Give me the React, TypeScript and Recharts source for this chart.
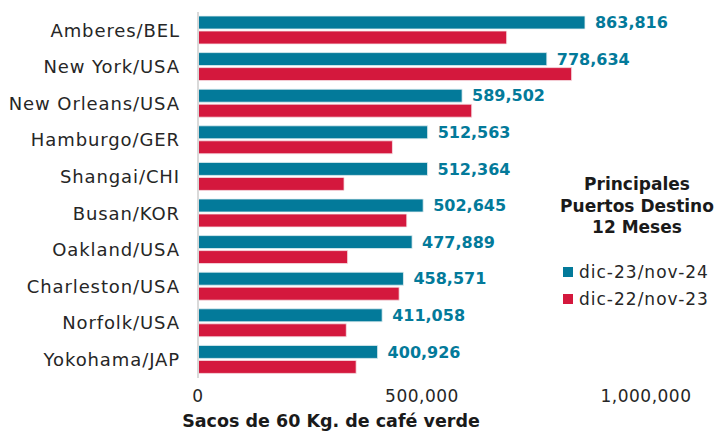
import React from "react";
import { BarChart, Bar, XAxis, YAxis, LabelList } from "recharts";

// ports ordered top to bottom
const ports = [
  "Amberes/BEL",
  "New York/USA",
  "New Orleans/USA",
  "Hamburgo/GER",
  "Shangai/CHI",
  "Busan/KOR",
  "Oakland/USA",
  "Charleston/USA",
  "Norfolk/USA",
  "Yokohama/JAP",
];
// sacos 60 kg, dic-23/nov-24
const current = [863816, 778634, 589502, 512563, 512364, 502645, 477889, 458571, 411058, 400926];
// dic-22/nov-23
const previous = [689000, 834000, 611000, 434000, 326000, 466000, 334000, 449000, 331000, 353000];
const xTicks = [0, 500000, 1000000];

const TEAL = "#037a9a";
const RED = "#d4183d";
const FONT = "'DejaVu Sans', sans-serif";

const data = ports.map((port, i) => ({
  port,
  current: current[i],
  previous: previous[i],
}));

const fmt = (v: number) => v.toLocaleString("en-US");

const LegendBox = () => (
  <div style={{ position: "absolute", left: 552, top: 174, width: 170, fontFamily: FONT, color: "#1a1a1a" }}>
    <div style={{ fontWeight: "bold", fontSize: 17, lineHeight: "21.5px", textAlign: "center" }}>
      Principales
      <br />
      Puertos Destino
      <br />
      12 Meses
    </div>
    <div style={{ marginTop: 20, marginLeft: 11 }}>
      {[
        { name: "dic-23/nov-24", color: TEAL },
        { name: "dic-22/nov-23", color: RED },
      ].map((it) => (
        <div key={it.name} style={{ display: "flex", alignItems: "center", height: 27, fontSize: 17, letterSpacing: 1, color: "#262626" }}>
          <span style={{ width: 10, height: 10, background: it.color, marginRight: 6, display: "inline-block" }} />
          {it.name}
        </div>
      ))}
    </div>
  </div>
);

export default function App() {
  return (
    <div style={{ position: "absolute", left: 0, top: 0, width: 720, height: 431, background: "#fff" }}>
      <BarChart
        width={720}
        height={431}
        layout="vertical"
        data={data}
        margin={{ top: 12, right: 74, left: 0, bottom: 28 }}
        barSize={13}
        barGap={2}
      >
        <XAxis
          type="number"
          domain={[0, 1000000]}
          ticks={xTicks}
          tickFormatter={fmt}
          axisLine={false}
          tickLine={false}
          tickMargin={6}
          height={25}
          tick={{ fill: "#262626", fontSize: 17, fontFamily: FONT, letterSpacing: 0.5 }}
        />
        <YAxis
          type="category"
          dataKey="port"
          width={198}
          axisLine={{ stroke: "#d9d9d9", strokeWidth: 2 }}
          tickLine={false}
          tickMargin={12}
          tick={{ fill: "#262626", fontSize: 18, fontFamily: FONT, letterSpacing: 0.9 }}
        />
        <Bar dataKey="current" name="dic-23/nov-24" fill={TEAL} stroke="#e6f0f3" strokeWidth={0.8} isAnimationActive={false}>
          <LabelList
            dataKey="current"
            position="right"
            offset={10}
            formatter={(v: number) => fmt(v)}
            fill={TEAL}
            fontSize={16}
            fontWeight="bold"
            fontFamily={FONT}
          />
        </Bar>
        <Bar dataKey="previous" name="dic-22/nov-23" fill={RED} stroke="#f6e4e8" strokeWidth={0.8} isAnimationActive={false} />
      </BarChart>
      <LegendBox />
      <div
        style={{
          position: "absolute",
          left: 0,
          width: 662,
          top: 411,
          textAlign: "center",
          fontFamily: FONT,
          fontWeight: "bold",
          fontSize: 17.5,
          color: "#1a1a1a",
        }}
      >
        Sacos de 60 Kg. de café verde
      </div>
    </div>
  );
}
